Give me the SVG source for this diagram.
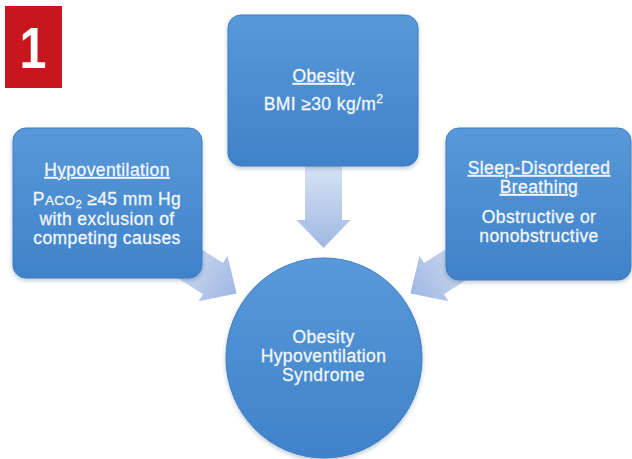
<svg xmlns="http://www.w3.org/2000/svg" width="632" height="459" viewBox="0 0 632 459">
  <style>
    .box { fill: url(#boxGrad); stroke: #3f7dc2; stroke-width: 1; filter: url(#shadow); }
    .arrow { fill: url(#arrowGrad); }
    .t { font-family: "Liberation Sans", Arial, sans-serif; font-size: 17.5px; fill: #f3f6fb; stroke: #f3f6fb; stroke-width: 0.3px; text-anchor: middle; letter-spacing: 0.4px; }
    .h { text-decoration: underline; }
  </style>
  <defs>
    <linearGradient id="boxGrad" x1="0" y1="0" x2="0" y2="1">
      <stop offset="0" stop-color="#5899d8"/>
      <stop offset="1" stop-color="#3f82ca"/>
    </linearGradient>
    <linearGradient id="arrowGrad" x1="0" y1="0" x2="0" y2="1">
      <stop offset="0" stop-color="#dbe5f5"/>
      <stop offset="0.55" stop-color="#bccdeb"/>
      <stop offset="1" stop-color="#9fb7e2"/>
    </linearGradient>
    <filter id="shadow" x="-10%" y="-10%" width="120%" height="125%">
      <feDropShadow dx="0" dy="2" stdDeviation="2" flood-color="#1a3f6e" flood-opacity="0.3"/>
    </filter>
    <path id="arr" d="M -18.5 -90 L 18.5 -90 L 18.5 -28 L 27 -28 L 0 0 L -27 -28 L -18.5 -28 Z"/>
  </defs>
  <rect width="632" height="459" fill="#ffffff"/>

  <g id="badge">
    <rect x="5" y="6" width="57" height="82" fill="#c8161e"/>
    <text x="0" y="0" transform="translate(33,68) scale(0.85,1)" font-family="Liberation Sans, Arial, sans-serif" font-size="57" font-weight="bold" fill="#ffffff" text-anchor="middle">1</text>
  </g>

  <g id="connectors">
    <use href="#arr" class="arrow" transform="translate(323.5,248)"/>
    <use href="#arr" class="arrow" transform="translate(236.6,293.6) rotate(-57.5)"/>
    <use href="#arr" class="arrow" transform="translate(410.4,293.6) rotate(57.5)"/>
  </g>

  <g id="obesity">
    <rect class="box" x="228" y="15" width="190" height="151" rx="13"/>
    <text class="t h" x="323.5" y="82">Obesity</text>
    <text class="t" x="323.5" y="110">BMI ≥30 kg/m<tspan font-size="12" dy="-7">2</tspan></text>
  </g>

  <g id="hypoventilation">
    <rect class="box" x="13" y="128" width="189" height="150" rx="13"/>
    <text class="t h" x="107" y="176">Hypoventilation</text>
    <text class="t" x="107" y="205">P<tspan font-size="13.5">ACO</tspan><tspan font-size="11" dy="2.5">2</tspan><tspan dy="-2.5"> ≥45 mm Hg</tspan></text>
    <text class="t" x="107" y="225">with exclusion of</text>
    <text class="t" x="107" y="244">competing causes</text>
  </g>

  <g id="sleep">
    <rect class="box" x="446" y="128" width="185" height="152" rx="13"/>
    <text class="t h" x="539" y="174">Sleep-Disordered</text>
    <text class="t h" x="539" y="193">Breathing</text>
    <text class="t" x="539" y="223">Obstructive or</text>
    <text class="t" x="539" y="242">nonobstructive</text>
  </g>

  <g id="ohs">
    <ellipse class="box" cx="324" cy="358" rx="98" ry="100"/>
    <text class="t" x="323.5" y="343">Obesity</text>
    <text class="t" x="323.5" y="362">Hypoventilation</text>
    <text class="t" x="323.5" y="381">Syndrome</text>
  </g>
</svg>
